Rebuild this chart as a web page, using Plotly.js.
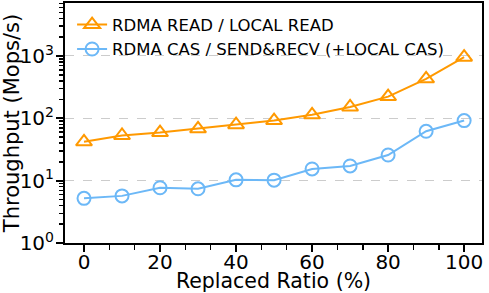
<!DOCTYPE html>
<html>
<head>
<meta charset="utf-8">
<script src="https://cdn.plot.ly/plotly-3.0.1.min.js"></script>
<style>html,body{margin:0;padding:0;background:#fff;}#chart{width:489px;height:293px;}</style>
</head>
<body>
<div id="chart"></div>
<script>
const ratios = [0, 10, 20, 30, 40, 50, 60, 70, 80, 90, 100];
const readSeriesName = "RDMA READ / LOCAL READ";
const readValues = [42, 53, 59, 68, 79, 92, 114, 152, 223, 430, 955];
const casSeriesName = "RDMA CAS / SEND&RECV (+LOCAL CAS)";
const casValues = [5.2, 5.7, 7.7, 7.4, 10.3, 10.2, 15.4, 17.2, 25.8, 62, 92];
const xTickVals = [0, 20, 40, 60, 80, 100];
const yTickVals = [1, 10, 100, 1000];
const yTickText = ["10<sup>0</sup>", "10<sup>1</sup>", "10<sup>2</sup>", "10<sup>3</sup>"];

const orange = "#ff9900";
const blue = "#6cb8f7";
const font = "DejaVu Sans, sans-serif";

const yMinor = [];
for (let e = 0; e < 4; e++) for (let d = 2; d <= 9; d++) yMinor.push(d * Math.pow(10, e));
const xMinor = [];
for (let i = 0; i <= 15; i++) xMinor.push(i * 20 / 3);

const traces = [
  {x: ratios, y: readValues, name: readSeriesName, mode: "lines+markers",
   line: {color: orange, width: 2},
   marker: {symbol: "triangle-up-open", size: 14, color: orange, line: {width: 2, color: orange}}},
  {x: ratios, y: casValues, name: casSeriesName, mode: "lines+markers",
   line: {color: blue, width: 2},
   marker: {symbol: "circle-open", size: 13, color: blue, line: {width: 2, color: blue}}}
];

const layout = {
  width: 489, height: 293,
  margin: {l: 65, r: 7, t: 3, b: 50},
  paper_bgcolor: "#fff", plot_bgcolor: "#fff",
  font: {family: font, color: "#000", size: 20},
  showlegend: true,
  legend: {x: 0.017, y: 0.982, xanchor: "left", yanchor: "top", bgcolor: "rgba(255,255,255,0)",
           font: {size: 16.5, family: font}, tracegroupgap: 0, itemwidth: 30},
  xaxis: {
    range: [-5, 104.7], tickmode: "array", tickvals: xTickVals,
    ticks: "outside", ticklen: 7, tickwidth: 2, tickcolor: "#000",
    showline: true, linewidth: 2, linecolor: "#000", mirror: true,
    showgrid: false, zeroline: false,
    tickfont: {size: 20}, ticklabelstandoff: -7,
    minor: {tickmode: "array", tickvals: xMinor, ticks: "outside", ticklen: 5, tickwidth: 1.5, tickcolor: "#000", showgrid: false},
    title: {text: "Replaced Ratio (%)", font: {size: 20.5}, standoff: 3}
  },
  yaxis: {
    type: "log", range: [0, 3.85], tickmode: "array", tickvals: yTickVals, ticktext: yTickText,
    ticks: "outside", ticklen: 7, tickwidth: 2, tickcolor: "#000",
    showline: true, linewidth: 2, linecolor: "#000", mirror: true,
    showgrid: true, gridcolor: "#cccccc", gridwidth: 1, griddash: "dash", zeroline: false,
    tickfont: {size: 20}, ticklabelstandoff: -2,
    minor: {tickmode: "array", tickvals: yMinor, ticks: "outside", ticklen: 4, tickwidth: 1.5, tickcolor: "#000", showgrid: false},
    title: {text: "Throughput (Mops/s)", font: {size: 21}, standoff: 4}
  }
};

Plotly.newPlot("chart", traces, layout, {staticPlot: true, displayModeBar: false});
</script>
</body>
</html>
